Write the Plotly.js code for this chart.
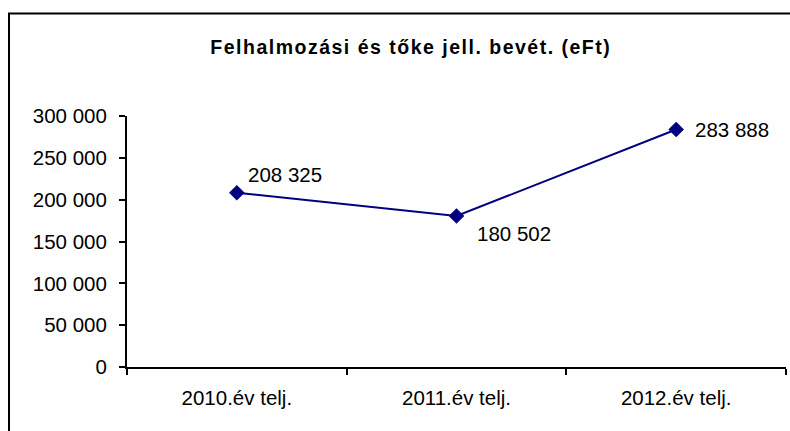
<!DOCTYPE html>
<html>
<head>
<meta charset="utf-8">
<script src="https://cdn.plot.ly/plotly-3.0.1.min.js"></script>
<style>
html,body{margin:0;padding:0;background:#fff;}
#chart{width:790px;height:431px;}
#chart .gtitle{letter-spacing:1.5px;}
</style>
</head>
<body>
<div id="chart"></div>
<script>
const categories = ["2010.év telj.", "2011.év telj.", "2012.év telj."];
const values = [208325, 180502, 283888];
const yTicks = [0, 50000, 100000, 150000, 200000, 250000, 300000];
const labelShiftX = [10, 19, 18];
const labelShiftY = [18, -18, 0];

function fmt(v){ return String(v).replace(/\B(?=(\d{3})+(?!\d))/g, " "); }

const font = "Liberation Sans, Arial, sans-serif";

const trace = {
  x: categories,
  y: values,
  type: "scatter",
  mode: "lines+markers",
  line: {color: "#000080", width: 2},
  marker: {symbol: "diamond", size: 12, color: "#000080"},
  hoverinfo: "skip"
};

const annotations = categories.map((c, i) => ({
  x: c, y: values[i], xref: "x", yref: "y",
  text: fmt(values[i]),
  showarrow: false,
  xanchor: "left", yanchor: "middle",
  xshift: labelShiftX[i], yshift: labelShiftY[i],
  borderpad: 0,
  font: {family: font, size: 20.5, color: "#000"}
}));

const layout = {
  width: 790, height: 431,
  margin: {l: 127, r: 4, t: 116, b: 64},
  paper_bgcolor: "#fff", plot_bgcolor: "#fff",
  showlegend: false,
  title: {
    text: "<b>Felhalmozási és tőke jell. bevét. (eFt)</b>",
    x: 0.52, xanchor: "center", y: 0.891, yanchor: "middle",
    font: {family: font, size: 19.5, color: "#000"}
  },
  xaxis: {
    type: "category",
    range: [-0.5, 2.5],
    tickson: "boundaries",
    ticks: "outside", ticklen: 6, tickwidth: 2, tickcolor: "#000",
    showline: true, linecolor: "#000", linewidth: 2,
    showgrid: false, zeroline: false,
    ticklabelstandoff: 11,
    tickfont: {family: font, size: 20.5, color: "#000"}
  },
  yaxis: {
    range: [0, 300000],
    tickvals: yTicks,
    ticktext: yTicks.map(fmt),
    ticks: "outside", ticklen: 6, tickwidth: 2, tickcolor: "#000",
    showline: true, linecolor: "#000", linewidth: 2,
    showgrid: false, zeroline: false,
    ticklabelstandoff: 8,
    tickfont: {family: font, size: 20.5, color: "#000"}
  },
  annotations: annotations,
  shapes: [{
    type: "rect", xref: "paper", yref: "paper",
    x0: (9 - 127) / 659, x1: 1.2,
    y0: -0.6, y1: (367 - 13.5) / 251,
    line: {color: "#000", width: 2}, fillcolor: "rgba(0,0,0,0)",
    layer: "below"
  }]
};

Plotly.newPlot("chart", [trace], layout, {displayModeBar: false, staticPlot: true});
</script>
</body>
</html>
